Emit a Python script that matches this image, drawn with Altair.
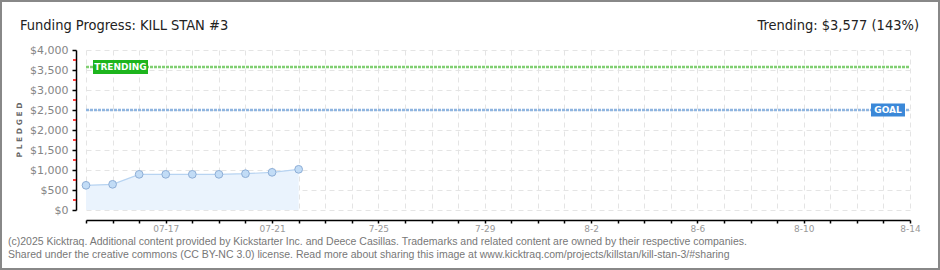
import altair as alt
import pandas as pd

# ---- data ----
dates = ["2025-07-14", "2025-07-15", "2025-07-16", "2025-07-17", "2025-07-18",
         "2025-07-19", "2025-07-20", "2025-07-21", "2025-07-22"]
pledged = [617, 642, 892, 892, 892, 892, 908, 942, 1017]
start_date = "2025-07-14"
n_days = 31
x_tick_labels = ["", "", "", "07-17", "", "", "", "07-21", "", "", "", "7-25",
                 "", "", "", "7-29", "", "", "", "8-2", "", "", "", "8-6",
                 "", "", "", "8-10", "", "", "", "8-14"]
y_ticks = [0, 500, 1000, 1500, 2000, 2500, 3000, 3500, 4000]
y_minor = [250, 750, 1250, 1750, 2250, 2750, 3250, 3750]
goal = 2500
trending = 3577
title_text = "Funding Progress: KILL STAN #3"
trend_text = "Trending:  $3,577 (143%)"
footer1 = ("(c)2025 Kicktraq. Additional content provided by Kickstarter Inc. and Deece Casillas. "
           "Trademarks and related content are owned by their respective companies.")
footer2 = ("Shared under the creative commons (CC BY-NC 3.0) license. Read more about sharing "
           "this image at www.kicktraq.com/projects/killstan/kill-stan-3/#sharing")

d0 = pd.Timestamp(start_date)
df = pd.DataFrame({
    "day": [(pd.Timestamp(d) - d0).days for d in dates],
    "pledged": pledged,
})
minor_df = pd.DataFrame({"v": y_minor})

W, H = 824, 160
PAD = {"left": 86, "right": 30, "top": 50, "bottom": 60}

x_scale = alt.Scale(domain=[0, n_days], nice=False, zero=False)
y_scale = alt.Scale(domain=[0, 4000], nice=False)

# nested conditional label expression built from the tick label list
label_expr = "''"
for i, lab in enumerate(x_tick_labels):
    if lab:
        label_expr = f"datum.value == {i} ? '{lab}' : ({label_expr})"

x_axis = alt.Axis(values=list(range(n_days + 1)), labelExpr=label_expr, title=None,
                  offset=10, domainColor="#000", domainWidth=1.5, tickColor="#000",
                  tickSize=3, tickWidth=1.5, labelColor="#999", labelFont="DejaVu Sans",
                  labelFontSize=9, labelPadding=1, grid=True, gridColor="#e4e4e4",
                  gridDash=[5, 4], labelOverlap=False, labelFlush=False)
y_axis = alt.Axis(values=y_ticks, format="$,d", title=None, offset=10,
                  domainColor="#000", domainWidth=1.5, tickColor="#000", tickSize=4,
                  tickWidth=1.5, labelColor="#858585", labelFont="DejaVu Sans",
                  labelFontSize=11, labelPadding=4, grid=True, gridColor="#e4e4e4",
                  gridDash=[5, 4], labelOverlap=False, labelFlush=False)

X = lambda f: alt.X(f, scale=x_scale, axis=x_axis)
Y = lambda f: alt.Y(f, scale=y_scale, axis=y_axis)
YD = lambda v: alt.datum(v, scale=y_scale, axis=y_axis)

base = alt.Chart(df)

area = base.mark_area(color="#eaf3fd", opacity=1).encode(x=X("day:Q"), y=Y("pledged:Q"))
line = base.mark_line(color="#b7d3f1", strokeWidth=1.2).encode(x=X("day:Q"), y=Y("pledged:Q"))
pts = base.mark_point(filled=True, size=60, fill="#c2dcf6", stroke="#8eaed6",
                      strokeWidth=1, opacity=1).encode(x=X("day:Q"), y=Y("pledged:Q"))

one = alt.Data(values=[{}])

def rule_at(val, color):
    return alt.Chart(one).mark_rule(color=color, strokeWidth=2.5, strokeDash=[3, 1]).encode(
        y=YD(val), x=alt.value(0), x2=alt.value(W))

trend_rule = rule_at(trending, "#80cf72")
goal_rule = rule_at(goal, "#8fb5e0")

minor = alt.Chart(minor_df).mark_rule(color="#ff0000", strokeWidth=1.5).encode(
    y=Y("v:Q"), x=alt.value(-13), x2=alt.value(-10))

def box(cx, val, w, h, color, label):
    ratio = h / w
    path = f"M-1,-{ratio}H1V{ratio}H-1Z"
    b = alt.Chart(one).mark_point(shape=path, filled=True, fill=color, opacity=1,
                                  strokeWidth=0, size=w * w).encode(
        x=alt.value(cx), y=YD(val))
    t = alt.Chart(one).mark_text(text=label, color="white", font="DejaVu Sans",
                                 fontSize=9, fontWeight="bold", baseline="middle",
                                 align="center").encode(
        x=alt.value(cx), y=YD(val))
    return b + t

trend_box = box(34.5, trending, 55, 14, "#1db51d", "TRENDING")
goal_box = box(802, goal, 34, 13, "#3b88d8", "GOAL")

def txt(s, x, y, **kw):
    return alt.Chart(one).mark_text(text=s, **kw).encode(x=alt.value(x), y=alt.value(y))

title = txt(title_text, -66, -20, align="left", baseline="alphabetic",
            font="DejaVu Sans Condensed, Roboto", fontSize=14.5, color="#222")
trend_t = txt(trend_text, 833, -20, align="right", baseline="alphabetic",
              font="DejaVu Sans Condensed, Roboto", fontSize=14.5, color="#222")
pledged_t = txt("P L E D G E D", -66, 80, align="center", baseline="middle", angle=270,
                font="DejaVu Sans", fontSize=7.5, fontWeight="bold", color="#666")
f1 = txt(footer1, -78, 195, align="left", baseline="alphabetic",
         font="Liberation Sans", fontSize=10.5, color="#777")
f2 = txt(footer2, -78, 208, align="left", baseline="alphabetic",
         font="Liberation Sans", fontSize=10.5, color="#777")

frame = alt.Chart(one).mark_rect(fill=None, stroke="#888", strokeWidth=2).encode(
    x=alt.value(-85), x2=alt.value(853), y=alt.value(-49), y2=alt.value(219))

chart = alt.layer(
    area, line, trend_rule, goal_rule, pts, minor, trend_box, goal_box,
    title, trend_t, pledged_t, f1, f2, frame
).properties(
    width=W, height=H, padding=PAD,
    autosize=alt.AutoSizeParams(type="none"),
    background="white",
).configure_view(stroke=None).configure_axis(labelOverlap=False)

chart.save("out.html", embed_options={"renderer": "svg", "actions": False})
